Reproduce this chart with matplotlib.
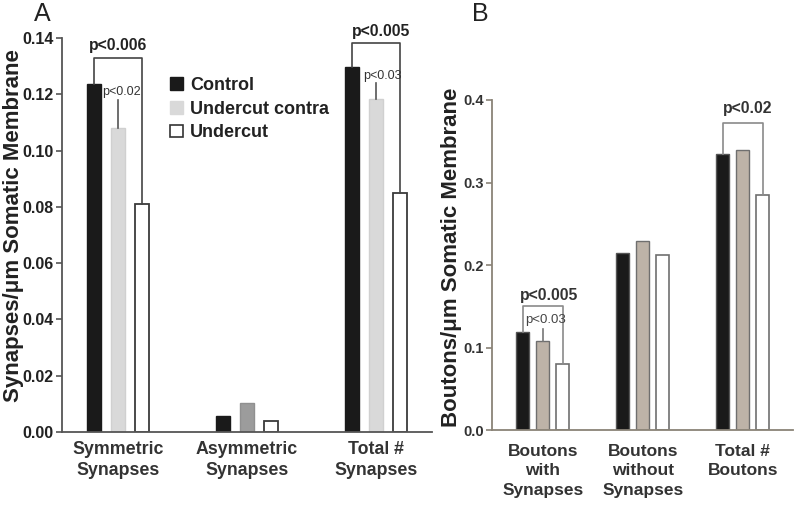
import matplotlib
matplotlib.use("Agg")
import matplotlib.pyplot as plt
from matplotlib.patches import Patch
import numpy as np

plt.rcParams["font.family"] = ["Liberation Sans", "DejaVu Sans"]

# Panel A: synapses per um somatic membrane
groups_a = ["Symmetric\nSynapses", "Asymmetric\nSynapses", "Total #\nSynapses"]
control_a = [0.1236, 0.0057, 0.1298]
contra_a = [0.108, 0.0102, 0.1183]
undercut_a = [0.081, 0.0039, 0.0849]
contra_err_a = [0.010, 0.0, 0.0057]

# Panel B: boutons per um somatic membrane
groups_b = ["Boutons\nwith\nSynapses", "Boutons\nwithout\nSynapses", "Total #\nBoutons"]
control_b = [0.1186, 0.215, 0.334]
contra_b = [0.1085, 0.229, 0.339]
undercut_b = [0.080, 0.2126, 0.285]
contra_err_b = [0.0145, 0.0, 0.0]

legend_labels = ["Control", "Undercut contra", "Undercut"]

fig = plt.figure(figsize=(8.0, 5.05), dpi=100)
ax_a = fig.add_axes([0.0775, 0.145, 0.4625, 0.7796])
ax_b = fig.add_axes([0.615, 0.148, 0.376, 0.654])

# ---- panel A ----
x = np.arange(len(groups_a))
w, off = 0.116, 0.186
ax_a.bar(x - off, control_a, w, color="#1a1a1a", edgecolor="#1a1a1a", lw=1)
ax_a.bar(x, contra_a, w, color=["#d9d9d9", "#9c9c9c", "#d9d9d9"],
         edgecolor=["#d0d0d0", "#909090", "#d0d0d0"], lw=1)
ax_a.bar(x + off, undercut_a, w, color="white", edgecolor="#3a3a3a", lw=1.3)
for i in range(len(x)):
    if contra_err_a[i] > 0:
        ax_a.plot([x[i], x[i]], [contra_a[i], contra_a[i] + contra_err_a[i]],
                  color="#555555", lw=1.2)

for i, by in [(0, 0.133), (2, 0.1384)]:
    ax_a.plot([x[i] - off, x[i] - off, x[i] + off, x[i] + off],
              [control_a[i], by, by, undercut_a[i]], color="#444444", lw=1.2,
              clip_on=False)
ax_a.text(0, 0.1375, "p<0.006", ha="center", va="center", fontsize=11.3,
          fontweight="bold", color="#222222")
ax_a.text(0.03, 0.1208, "p<0.02", ha="center", va="center", fontsize=9,
          color="#333333")
ax_a.text(2.04, 0.1422, "p<0.005", ha="center", va="center", fontsize=11.3,
          fontweight="bold", color="#222222")
ax_a.text(2.05, 0.1265, "p<0.03", ha="center", va="center", fontsize=9,
          color="#333333")

ax_a.set_xlim(-0.434, 2.434)
ax_a.set_ylim(0, 0.14)
ax_a.set_yticks(np.arange(0, 0.141, 0.02))
ax_a.set_yticklabels([f"{v:.2f}" for v in np.arange(0, 0.141, 0.02)])
ax_a.set_xticks(x)
ax_a.set_xticklabels(groups_a, fontsize=12.8, fontweight="bold",
                     color="#333333", linespacing=1.3)
ax_a.tick_params(axis="x", length=0, pad=7)
ax_a.tick_params(axis="y", length=4, width=1.2, colors="#555555",
                 labelcolor="#222222", labelsize=11.5, pad=2)
for lab in ax_a.get_yticklabels():
    lab.set_fontweight("bold")
for s in ["top", "right"]:
    ax_a.spines[s].set_visible(False)
for s in ["left", "bottom"]:
    ax_a.spines[s].set_color("#555555")
    ax_a.spines[s].set_linewidth(1.3)

handles = [Patch(facecolor="#1a1a1a", edgecolor="#1a1a1a"),
           Patch(facecolor="#d9d9d9", edgecolor="#d9d9d9"),
           Patch(facecolor="white", edgecolor="#333333", lw=1.2)]
fig.legend(handles, legend_labels, loc="upper left",
           bbox_to_anchor=(0.2015, 0.866), frameon=False, borderpad=0,
           handlelength=0.7, handleheight=0.7, handletextpad=0.4,
           labelspacing=0.38, prop={"size": 13, "weight": "bold"},
           labelcolor="#222222")

# ---- panel B ----
xb = np.arange(len(groups_b))
wb, offb = 0.13, 0.20
ax_b.bar(xb - offb, control_b, wb, color="#1a1a1a", edgecolor="#555555", lw=1)
ax_b.bar(xb, contra_b, wb, color="#bdb3a8", edgecolor="#6f6f6f", lw=1)
ax_b.bar(xb + offb, undercut_b, wb, color="white", edgecolor="#6f6f6f", lw=1.2)
for i in range(len(xb)):
    if contra_err_b[i] > 0:
        ax_b.plot([xb[i], xb[i]], [contra_b[i], contra_b[i] + contra_err_b[i]],
                  color="#777777", lw=1.2)

for i, by in [(0, 0.150), (2, 0.372)]:
    ax_b.plot([xb[i] - offb, xb[i] - offb, xb[i] + offb, xb[i] + offb],
              [control_b[i], by, by, undercut_b[i]], color="#8a8a8a", lw=1.2,
              clip_on=False)
ax_b.text(0.06, 0.1638, "p<0.005", ha="center", va="center", fontsize=11.3,
          fontweight="bold", color="#333333")
ax_b.text(0.03, 0.1335, "p<0.03", ha="center", va="center", fontsize=9.5,
          color="#444444")
ax_b.text(2.045, 0.390, "p<0.02", ha="center", va="center", fontsize=11.3,
          fontweight="bold", color="#333333")

ax_b.set_xlim(-0.51, 2.5)
ax_b.set_ylim(0, 0.4)
ax_b.set_yticks([0.0, 0.1, 0.2, 0.3, 0.4])
ax_b.set_yticklabels(["0.0", "0.1", "0.2", "0.3", "0.4"])
ax_b.set_xticks(xb)
ax_b.set_xticklabels(groups_b, fontsize=12.5, fontweight="bold",
                     color="#333333", linespacing=1.35)
ax_b.tick_params(axis="x", length=0, pad=10)
ax_b.tick_params(axis="y", length=4, width=1.2, colors="#8a8377",
                 labelcolor="#333333", labelsize=10.5, pad=2)
for lab in ax_b.get_yticklabels():
    lab.set_fontweight("bold")
for s in ["top", "right"]:
    ax_b.spines[s].set_visible(False)
for s in ["left", "bottom"]:
    ax_b.spines[s].set_color("#8a8377")
    ax_b.spines[s].set_linewidth(1.3)

# axis titles and panel letters
fig.text(0.0175, 0.5525, "Synapses/\u03bcm Somatic Membrane", rotation=90,
         ha="center", va="center", fontsize=16, fontweight="bold",
         color="#222222")
fig.text(0.564, 0.49, "Boutons/\u03bcm Somatic Membrane", rotation=90,
         ha="center", va="center", fontsize=16, fontweight="bold",
         color="#222222")
fig.text(0.053, 0.973, "A", ha="center", va="center", fontsize=18,
         color="#222222")
fig.text(0.601, 0.973, "B", ha="center", va="center", fontsize=18,
         color="#222222")

fig.savefig("out.png", dpi=100)
